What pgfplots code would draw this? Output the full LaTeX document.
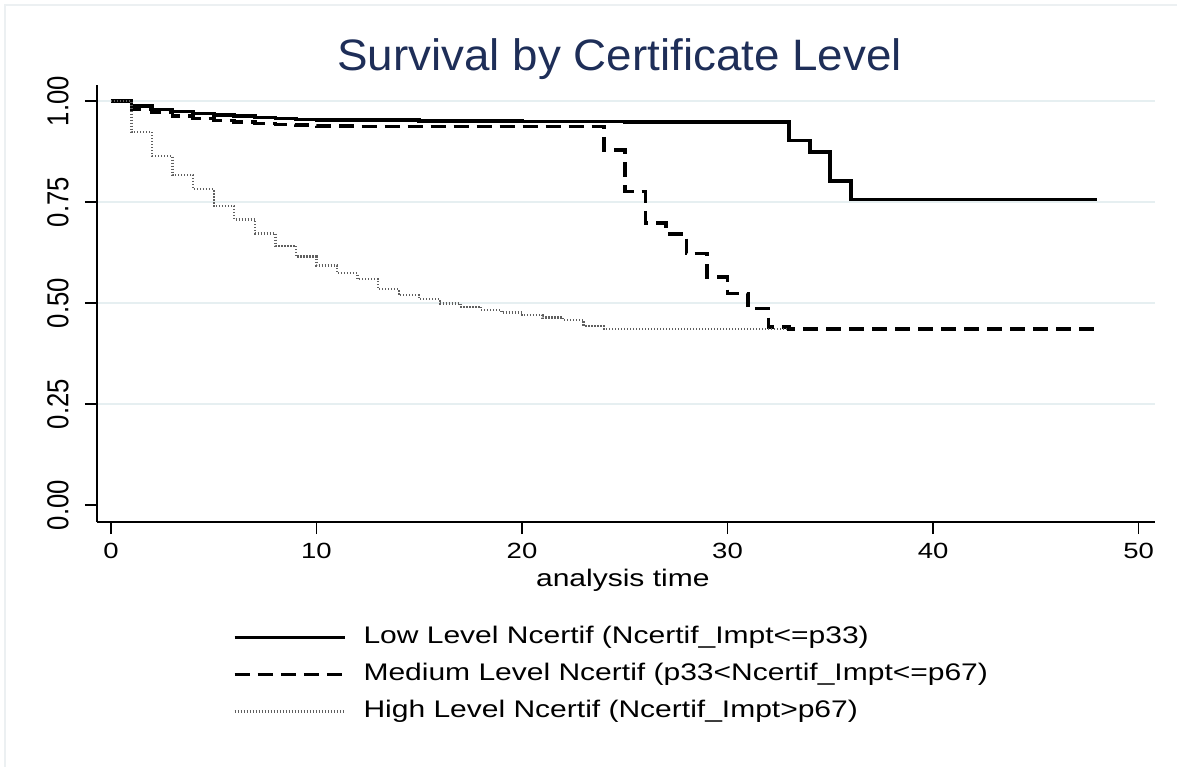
\documentclass[border=0pt]{standalone}
\usepackage{fontspec}
\setmainfont{Liberation Sans}
\newfontfamily\widefont{Liberation Sans}[FakeStretch=1.25]
\newfontfamily\titlefont{Liberation Sans}[FakeStretch=1.04]
\usepackage{graphicx}
\usepackage{pgfplots}
\pgfplotsset{compat=1.18}
\definecolor{titleblue}{RGB}{30,46,88}
\definecolor{gridc}{RGB}{230,239,241}
\definecolor{dotgray}{RGB}{95,95,95}
\definecolor{framec}{RGB}{236,240,242}
\begin{document}
\begin{tikzpicture}
\path[use as bounding box] (-48.5pt,-122.5pt) rectangle (540pt,261pt);
\draw[framec, line width=0.6pt] (-46pt,-122.5pt) -- (-46pt,258.5pt) -- (540pt,258.5pt);
\begin{axis}[
  at={(0pt,0pt)}, anchor=south west, scale only axis,
  width=529pt, height=218.5pt,
  xmin=-0.68, xmax=50.8, ymin=-0.042, ymax=1.04,
  axis x line=bottom, axis y line=left,
  axis line style={-, line width=0.75pt, black},
  tick align=outside, major tick length=6pt,
  tick style={line width=0.75pt, black},
  xtick={0,10,20,30,40,50},
  ytick={0.25,0.5,0.75,1},
  yticklabels={\scalebox{1}[1.18]{0.25},\scalebox{1}[1.18]{0.50},\scalebox{1}[1.18]{0.75},\scalebox{1}[1.18]{1.00}},
  extra y ticks={0},
  extra y tick labels={\scalebox{1}[1.18]{0.00}},
  extra y tick style={grid=none},
  ymajorgrids,
  grid style={gridc, line width=0.75pt},
  /pgf/number format/assume math mode=true,
  xticklabel style={font=\widefont\fontsize{11}{13}\selectfont, anchor=base, inner sep=0pt, yshift=-12.15pt},
  yticklabel style={xshift=-8.35pt, rotate=90, anchor=base, inner sep=0pt, font=\fontsize{12.85}{14}\selectfont},
  xlabel={analysis time},
  xlabel style={at={(axis description cs:0.497,0)}, anchor=base, yshift=-32.35pt, inner sep=0pt, font=\widefont\fontsize{12}{14}\selectfont},
  every axis title shift=0pt,
  title={Survival by Certificate Level},
  title style={at={(axis description cs:0.4939,1.0343)}, anchor=base, inner sep=0pt, font=\titlefont\fontsize{22}{26}\selectfont, text=titleblue},
  legend style={at={(axis description cs:0.1285,-0.2364)}, anchor=north west, draw=none, fill=none, inner sep=0pt, outer sep=0pt, row sep=6.5pt, font=\widefont\fontsize{12}{14}\selectfont, nodes={inner sep=0pt, text height=9pt, text depth=3pt}, /tikz/every odd column/.append style={column sep=8.5pt}},
  legend cell align=left,
  legend image code/.code={\draw[#1] (0pt,0pt) -- (55pt,0pt);},
]
\addplot[const plot, black, line width=1.8pt, line join=miter] coordinates {
(0,1.000) (1,0.988) (2,0.979) (3,0.974) (4,0.969) (5,0.965) (6,0.963) (7,0.960)
(8,0.957) (9,0.955) (10,0.954) (12,0.953) (15,0.951) (20,0.950) (25,0.949)
(33,0.903) (34,0.874) (35,0.802) (36,0.757) (48,0.757)};
\addlegendentry{Low Level Ncertif (Ncertif\_Impt<=p33)}
\addplot[const plot, black, line width=1.8pt, dash pattern=on 7.5pt off 4pt, line join=miter] coordinates {
(0,1.000) (1,0.981) (2,0.972) (3,0.963) (4,0.957) (5,0.952) (6,0.948) (7,0.945)
(8,0.942) (9,0.941) (10,0.939) (12,0.937) (24,0.879) (25,0.776) (26,0.699)
(27,0.671) (28,0.623) (29,0.565) (30,0.524) (31,0.487) (32,0.441) (33,0.436) (48,0.436)};
\addlegendentry{Medium Level Ncertif (p33<Ncertif\_Impt<=p67)}
\addplot[const plot, dotgray, line width=1.2pt, dash pattern=on 0.6pt off 0.9pt] coordinates {
(0,1.000) (1,0.924) (2,0.864) (3,0.817) (4,0.782) (5,0.740) (6,0.707) (7,0.672)
(8,0.642) (9,0.615) (10,0.593) (11,0.574) (12,0.560) (13,0.535) (14,0.520)
(15,0.510) (16,0.499) (17,0.491) (18,0.483) (19,0.477) (20,0.470) (21,0.464)
(22,0.458) (23,0.444) (24,0.436) (33,0.436)};
\addlegendentry{High Level Ncertif (Ncertif\_Impt>p67)}
\end{axis}
\end{tikzpicture}
\end{document}
